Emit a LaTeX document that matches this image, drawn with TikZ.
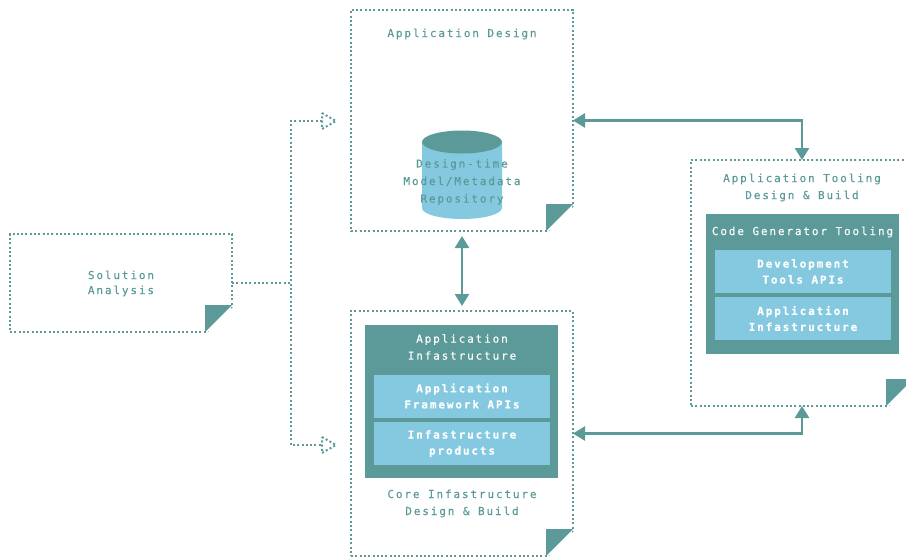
\documentclass[tikz,border=0pt]{standalone}
\usepackage{fontspec}
\usepackage{tikz}
\usetikzlibrary{calc, arrows.meta}
\newfontfamily\labelfont[LetterSpace=17,FakeBold=0.25]{DejaVu Sans Mono}
\definecolor{tealdark}{HTML}{5B9A98}
\definecolor{skyblue}{HTML}{84C9E0}
\newcommand{\foldcorner}[1]{
\fill[white] ($(#1.south east)+(-26,2)$)--($(#1.south east)+(2,2)$)--($(#1.south east)+(2,-26)$)--cycle;
\fill[tealdark] ($(#1.south east)+(-27,0)$)--($(#1.south east)+(-27,-27)$)--($(#1.south east)+(0,-27)$)--cycle;}
\begin{document}
\begin{tikzpicture}[x=1pt, y=-1pt,
dotline/.style={draw=tealdark, line width=2pt, dash pattern=on 2pt off 2.3pt},
note/.style={dotline, inner sep=0pt, outer sep=0pt, minimum width=222pt},
darkbox/.style={fill=tealdark, inner sep=0pt, outer sep=0pt, minimum width=193pt},
lightbox/.style={fill=skyblue, inner sep=0pt, outer sep=0pt, minimum width=176pt, minimum height=43pt},
caption/.style={text=tealdark, align=center, inner sep=0pt, font=\labelfont\fontsize{11}{17}\selectfont},
whitetext/.style={text=white, align=center, inner sep=0pt, font=\labelfont\fontsize{11}{17}\selectfont},
boldtext/.style={text=white, align=center, inner sep=0pt, font=\labelfont\bfseries\fontsize{11}{16}\selectfont},
link/.style={draw=tealdark, line width=2.5pt, {Triangle[width=14pt,length=12pt]}-{Triangle[width=14pt,length=12pt]}},
]
\clip (0,0) rectangle (906,557);
\useasboundingbox (0,0) rectangle (906,557);
\node[note, minimum height=98pt] (solution) at (121,283) {};
\node[note, minimum height=221pt] (design) at (462,120.5) {};
\node[note, minimum height=245pt] (core) at (462,433.5) {};
\node[note, minimum height=246pt] (tooling) at (802,283) {};
\foldcorner{solution}
\foldcorner{design}
\foldcorner{core}
\foldcorner{tooling}
\node[caption, font=\labelfont\fontsize{11}{15}\selectfont] (solutiontext) at (121,283.5) {Solution\\Analysis};
\node[caption] (designtext) at (462,34) {Application Design};
\fill[skyblue] (502,142)--(502,208) arc (0:180:40 and 11)--(422,142)--cycle;
\fill[tealdark] (462,142) ellipse (40 and 11.5);
\node[caption, font=\labelfont\fontsize{11}{17.5}\selectfont] (repotext) at (462,182) {Design-time\\Model/Metadata\\Repository};
\node[darkbox, minimum height=153pt] (infra) at (461.5,401.5) {};
\node[lightbox] (framework) at (462,396.5) {};
\node[lightbox] (products) at (462,443.5) {};
\node[whitetext] (infratext) at (462,347) {Application\\Infastructure};
\node[boldtext] (frameworktext) at (462,396) {Application\\Framework APIs};
\node[boldtext] (productstext) at (462,443.5) {Infastructure\\products};
\node[caption] (coretext) at (462,503.5) {Core Infastructure\\Design \& Build};
\node[caption] (toolingtext) at (802,187.5) {Application Tooling\\Design \& Build};
\node[darkbox, minimum height=140pt] (generator) at (802.5,284) {};
\node[lightbox] (devtools) at (803,271.5) {};
\node[lightbox] (appinfra) at (803,318.5) {};
\node[whitetext] (generatortext) at (802.5,232) {Code Generator Tooling};
\node[boldtext] (devtoolstext) at (803,271.5) {Development\\Tools APIs};
\node[boldtext] (appinfratext) at (803,318.5) {Application\\Infastructure};
\draw[link] (design.east)--(design.east -| tooling.north)--(tooling.north);
\draw[link] (core.east)--(core.east -| tooling.south)--(tooling.south);
\draw[link, shorten <=5pt, shorten >=5pt] (design.south)--(core.north);
\coordinate (branch) at (291,283);
\coordinate (upper) at (322,121);
\coordinate (lower) at (322,445);
\draw[dotline] (solution.east)--(branch);
\draw[dotline] (upper)--(upper -| branch)--(lower -| branch)--(lower);
\draw[dotline] ($(upper)+(0,-8)$)--($(upper)+(14,0)$)--($(upper)+(0,8)$)--cycle;
\draw[dotline] ($(lower)+(0,-8)$)--($(lower)+(14,0)$)--($(lower)+(0,8)$)--cycle;
\end{tikzpicture}
\end{document}
